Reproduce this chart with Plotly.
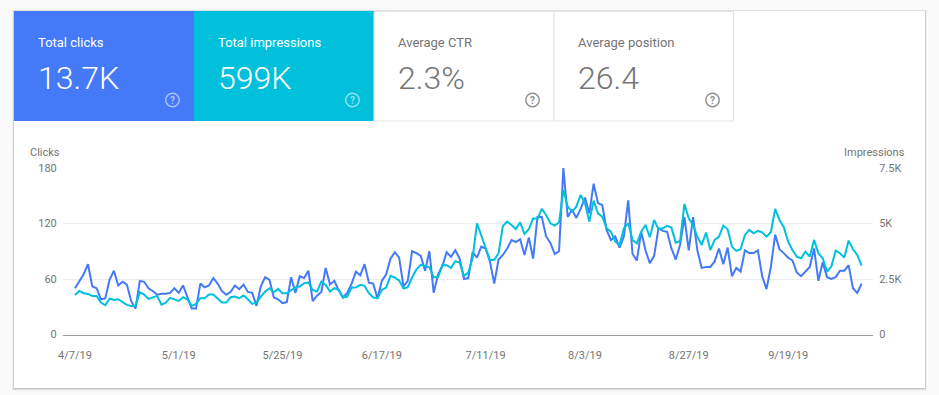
import pandas as pd
import plotly.graph_objects as go

W, H = 939, 395

clicks = [50,57,65,76,52,50,38,39,59,69,53,57,54,36,28,58,57,50,47,43,44,44,45,50,45,53,41,28,28,55,
          51,53,61,55,47,43,46,53,49,54,46,45,31,52,62,59,40,38,34,35,62,45,63,61,69,36,42,46,72,54,
          58,48,40,45,55,68,64,76,56,55,39,58,65,82,89,83,52,58,90,88,85,69,90,45,65,74,89,84,91,82,
          60,61,89,83,95,93,79,55,81,86,93,102,100,103,86,105,82,127,127,106,99,87,90,180,127,135,126,136,148,131,
          163,142,140,113,102,106,94,106,145,87,80,111,91,77,85,115,112,111,93,81,97,127,91,127,91,72,73,73,79,93,
          76,94,63,72,68,91,88,88,91,63,49,73,108,92,88,83,80,67,63,68,73,93,58,78,62,60,62,69,69,75,
          50,45,55]

impressions = [1783,1963,1858,1828,1738,1738,1438,1318,1618,1558,1588,1453,1333,1288,1288,1903,1798,1603,1663,1738,
               1348,1438,1648,1588,1513,1678,1588,1288,1378,1633,1633,1798,1798,1618,1438,1438,1678,1708,1633,1753,
               1588,1378,1438,1708,1933,2083,1903,2053,1858,1858,1978,2128,2158,2308,2338,2010,1935,2385,2235,1935,
               2085,2010,1665,1710,2115,2115,2235,2190,1860,1665,1635,2010,2115,2640,2565,2430,2070,2130,2565,2940,
               3135,3090,3030,2580,2580,3135,3120,3000,3300,3240,2640,2790,3435,5010,4485,3930,3360,3360,3660,4890,
               5085,4935,4740,5055,4530,4740,5235,5205,5655,5385,5010,4905,5055,6510,5760,5535,5760,6285,5910,5085,
               6030,5460,5310,4785,4635,4185,4035,4785,5010,4260,4110,4635,4935,4380,5160,4740,4785,4890,4815,4140,
               4215,5880,5235,4935,4410,4035,4590,3810,4260,4410,4905,4740,3960,3765,3840,4485,4710,4560,4665,4605,
               4410,4605,5655,5160,4830,4185,3810,3510,3435,3735,3510,4260,3660,3435,2835,3060,3780,3660,3465,4230,
               3840,3585,3105]

start_date = "2019-04-07"
x_tick_dates = ["2019-04-07","2019-05-01","2019-05-25","2019-06-17","2019-07-11","2019-08-03","2019-08-27","2019-09-19"]
x_tick_labels = ["4/7/19","5/1/19","5/25/19","6/17/19","7/11/19","8/3/19","8/27/19","9/19/19"]
left_ticks = [0, 60, 120, 180]
left_labels = ["0", "60", "120", "180"]
right_ticks = [0, 2500, 5000, 7500]
right_labels = ["0", "2.5K", "5K", "7.5K"]

tile_labels = ["Total clicks", "Total impressions", "Average CTR", "Average position"]
tile_values = ["13.7K", "599K", "2.3%", "26.4"]

BLUE = "#4479f7"
CYAN = "#00c0dc"
FONT = "Roboto"
GREY = "#757575"

dates = pd.date_range(start_date, periods=len(clicks), freq="D")
px_per_day = (861.6 - 75) / (len(clicks) - 1)
x0 = pd.Timestamp(start_date) + pd.Timedelta(days=(63 - 75) / px_per_day)
x1 = pd.Timestamp(start_date) + pd.Timedelta(days=(873 - 75) / px_per_day)


def px(v):
    return v / W


def py(v):
    return 1 - v / H


def rect(x_a, y_a, x_b, y_b, fill, line=None, lw=0):
    return dict(type="rect", xref="paper", yref="paper", layer="below",
                x0=px(x_a), x1=px(x_b), y0=py(y_b), y1=py(y_a),
                fillcolor=fill, line=dict(color=line or "rgba(0,0,0,0)", width=lw))


shapes = []
for off, alpha in [(3.0, 0.04), (2.0, 0.07), (1.0, 0.12)]:
    shapes.append(rect(14 - off * 0.6, 11 - off * 0.3, 925 + off * 0.6, 388 + off, f"rgba(0,0,0,{alpha})"))
shapes.append(rect(14, 11, 925, 388, "#ffffff"))
shapes.append(rect(14, 11, 194, 121, BLUE))
shapes.append(rect(194, 11, 374, 121, CYAN))
shapes.append(rect(374, 11.5, 554, 121, "#ffffff", "#e3e3e3", 1))
shapes.append(rect(554, 11.5, 733.5, 121, "#ffffff", "#e3e3e3", 1))

annotations = []


def label(text, x, y, size, color, anchor="left", weight=None):
    font = dict(family=FONT, size=size, color=color)
    if weight:
        font["weight"] = weight
    annotations.append(dict(text=text, xref="paper", yref="paper", x=px(x), y=py(y),
                            xanchor=anchor, yanchor="middle", showarrow=False,
                            font=font, borderpad=0, borderwidth=0))


tile_x = [37.5, 217.5, 397.5, 577.5]
icon_x = [172.5, 352.5, 532.5, 712.5]
for i in range(4):
    filled = i < 2
    label(tile_labels[i], tile_x[i], 42.5, 13, "#ffffff" if filled else GREY)
    label(tile_values[i], tile_x[i], 78.5, 32, "#ffffff" if filled else GREY, weight=300)
    icon_col = "rgba(255,255,255,0.55)" if filled else "#8f8f8f"
    shapes.append(dict(type="circle", xref="paper", yref="paper", layer="above",
                       x0=px(icon_x[i] - 6.8), x1=px(icon_x[i] + 6.8),
                       y0=py(100 + 6.8), y1=py(100 - 6.8),
                       line=dict(color=icon_col, width=1.4), fillcolor="rgba(0,0,0,0)"))
    label("?", icon_x[i], 100, 10, icon_col, anchor="center", weight=700)

label("Clicks", 30, 152, 11, GREY)
label("Impressions", 905, 152, 11, GREY, anchor="right")

fig = go.Figure()
fig.add_trace(go.Scatter(x=dates, y=impressions, yaxis="y2", mode="lines", name="Impressions",
                         line=dict(color=CYAN, width=2), hoverinfo="skip"))
fig.add_trace(go.Scatter(x=dates, y=clicks, yaxis="y", mode="lines", name="Clicks",
                         line=dict(color=BLUE, width=2), hoverinfo="skip"))

tick_font = dict(family=FONT, size=11, color=GREY)
dom_y = [py(334.5), py(168)]
fig.update_layout(
    width=W, height=H, autosize=False,
    margin=dict(l=0, r=0, t=0, b=0, autoexpand=False),
    paper_bgcolor="#fafafa", plot_bgcolor="rgba(0,0,0,0)",
    showlegend=False, shapes=shapes, annotations=annotations,
    xaxis=dict(type="date", domain=[px(63), px(873)], range=[x0, x1], automargin=False,
               tickmode="array", tickvals=x_tick_dates, ticktext=x_tick_labels,
               tickfont=tick_font, showgrid=False, zeroline=False,
               showline=True, linecolor="#9e9e9e", linewidth=1,
               ticks="outside", ticklen=10, tickcolor="rgba(0,0,0,0)"),
    yaxis=dict(domain=dom_y, range=[0, 180], tickmode="array", automargin=False,
               tickvals=left_ticks, ticktext=left_labels, tickfont=tick_font,
               showgrid=True, gridcolor="#ececec", gridwidth=1, zeroline=False,
               ticks="outside", ticklen=3, tickcolor="rgba(0,0,0,0)"),
    yaxis2=dict(domain=dom_y, range=[0, 7500], overlaying="y", side="right", anchor="x", automargin=False,
                tickmode="array", tickvals=right_ticks, ticktext=right_labels,
                tickfont=tick_font, showgrid=False, zeroline=False,
                ticks="outside", ticklen=3, tickcolor="rgba(0,0,0,0)"),
)

fig.write_html("out.html", config=dict(displayModeBar=False),
               post_script="document.body.style.margin='0';document.body.style.background='#fafafa';")
